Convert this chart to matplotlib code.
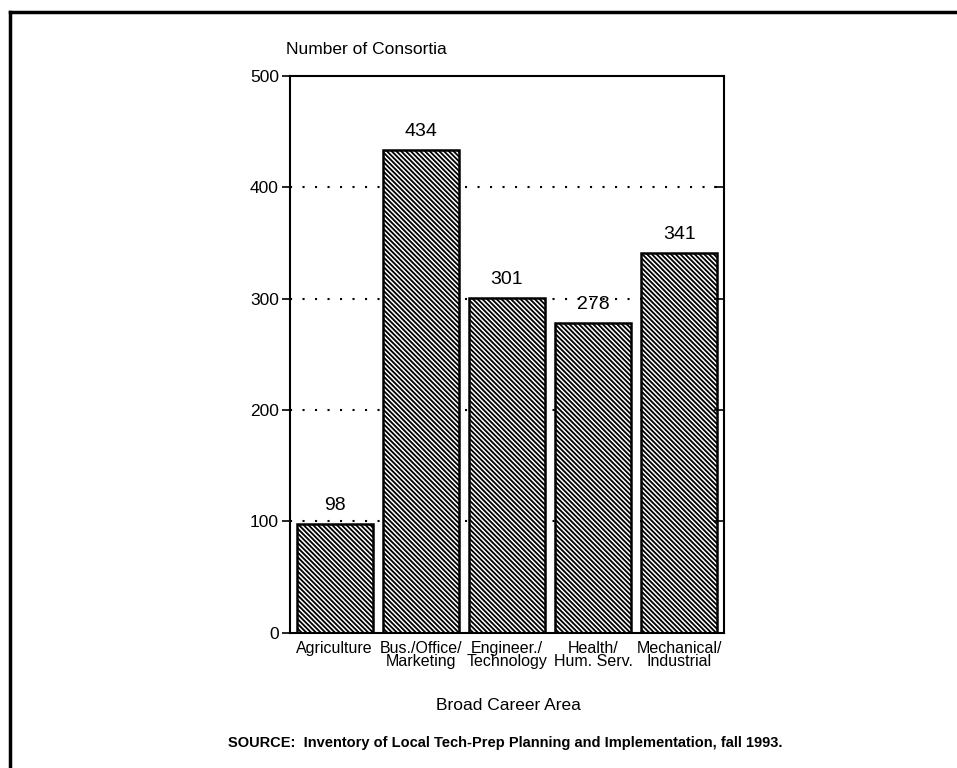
import matplotlib
matplotlib.use("Agg")
import matplotlib.pyplot as plt
from matplotlib.lines import Line2D

categories = ["Agriculture", "Bus./Office/\nMarketing", "Engineer./\nTechnology",
              "Health/\nHum. Serv.", "Mechanical/\nIndustrial"]
values = [98, 434, 301, 278, 341]
yticks = [0, 100, 200, 300, 400, 500]

plt.rcParams['font.family'] = ['Liberation Sans', 'DejaVu Sans']
plt.rcParams['hatch.linewidth'] = 1.1

fig = plt.figure(figsize=(9.57, 7.68), dpi=100)
ax = fig.add_axes([0.303, 0.176, 0.4535, 0.725])

x = list(range(len(values)))
for yv in yticks[1:-1]:
    ax.axhline(yv, color='black', linestyle=(0, (1, 5)), linewidth=1.5, zorder=1)

ax.bar(x, values, width=0.88, color='black', edgecolor='white', hatch='\\' * 7,
       linewidth=0, zorder=2)
ax.bar(x, values, width=0.88, fill=False, edgecolor='black', linewidth=1.8, zorder=3)

for xi, v in zip(x, values):
    ax.text(xi, v + 9, str(v), ha='center', va='bottom', fontsize=14)

ax.set_xlim(-0.52, 4.52)
ax.set_ylim(0, 500)
ax.set_yticks(yticks)
ax.set_yticklabels([str(t) for t in yticks], fontsize=12.5)
ax.set_xticks(x)
ax.set_xticklabels(categories, fontsize=11.5, linespacing=0.85,
                   family=['Liberation Sans Narrow', 'Liberation Sans', 'DejaVu Sans'])
ax.tick_params(axis='x', length=0, pad=6)
ax.tick_params(axis='y', direction='out', length=6, width=1.2, pad=2)
for sp in ax.spines.values():
    sp.set_linewidth(1.5)

ax2 = ax.twinx()
ax2.set_ylim(0, 500)
ax2.set_yticks(yticks[1:-1])
ax2.tick_params(axis='y', direction='in', length=7, width=1.2, labelright=False)
for sp in ax2.spines.values():
    sp.set_visible(False)

ax.text(-0.01, 1.035, "Number of Consortia", transform=ax.transAxes,
        ha='left', va='bottom', fontsize=12.5)

fig.text(0.531, 1 - 705 / 768, "Broad Career Area", ha='center', va='center', fontsize=12.5)
fig.text(0.528, 1 - 743 / 768,
         "SOURCE:  Inventory of Local Tech-Prep Planning and Implementation, fall 1993.",
         ha='center', va='center', fontsize=10.5, fontweight='bold')

fig.add_artist(Line2D([10 / 957, 10 / 957], [0, 1 - 12 / 768], color='black',
                      linewidth=2.5, transform=fig.transFigure))
fig.add_artist(Line2D([10 / 957, 1], [1 - 12 / 768, 1 - 12 / 768], color='black',
                      linewidth=2.5, transform=fig.transFigure))

fig.savefig("out.png", dpi=100, facecolor='white')
